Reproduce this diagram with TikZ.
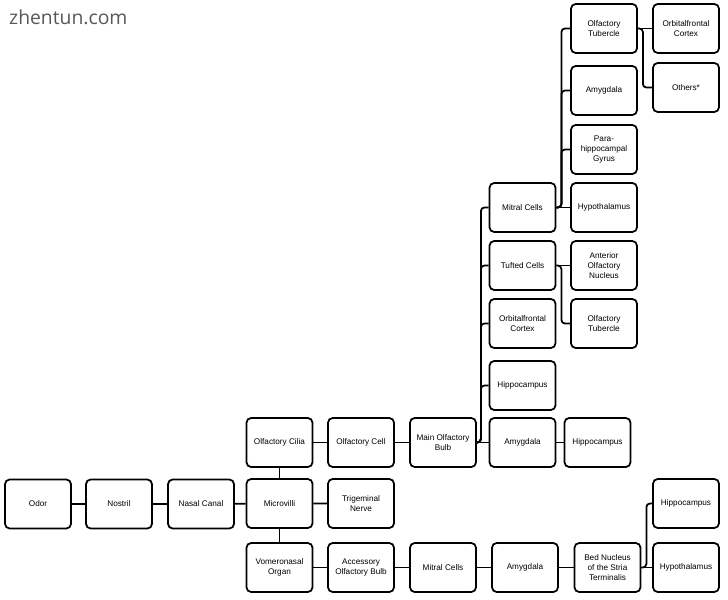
\documentclass[tikz,border=0pt]{standalone}
\usepackage{fontspec}
\setmainfont{Liberation Sans}
\newfontfamily\wmfont{Open Sans}
\usepackage{tikz}
\usetikzlibrary{positioning}
\usepackage{xcolor}
\definecolor{wmgray}{RGB}{88,88,88}

\begin{document}
\begin{tikzpicture}[x=0.03cm, y=-0.03cm,
  box/.style={draw, line width=1.5pt, rounded corners=4pt, minimum width=1.98cm, minimum height=1.47cm,
    align=center, inner sep=1pt, font=\fontsize{7}{8.3}\selectfont},
  link/.style={line width=1.5pt, rounded corners=3pt}]
  \useasboundingbox (0,0) rectangle (728,600);
  \node[anchor=base west, text=wmgray, font=\wmfont\fontsize{16.5}{18}\selectfont, inner sep=0pt] (wm) at (9,25) {zhentun.com};
  % Entry row
  \node[box] (odor) at (38,504) {Odor};
  \node[box] (nostril) at (119,504) {Nostril};
  \node[box] (nasal) at (201,504) {Nasal Canal};
  \node[box] (microvilli) at (279.5,503.5) {Microvilli};
  \node[box] (cilia) at (279.5,442.5) {Olfactory Cilia};
  \node[box] (vomero) at (279.5,567.5) {Vomeronasal\\Organ};
  \node[box] (cell) at (361,442.5) {Olfactory Cell};
  \node[box] (trigem) at (361,503.5) {Trigeminal\\Nerve};
  \node[box] (accessory) at (361,567.5) {Accessory\\Olfactory Bulb};
  % Main olfactory bulb and targets
  \node[box] (mob) at (443,442.5) {Main Olfactory\\Bulb};
  \node[box] (mitral) at (522.5,207.5) {Mitral Cells};
  \node[box] (tufted) at (522.5,265.5) {Tufted Cells};
  \node[box] (orbitG) at (522.5,323.5) {Orbitalfrontal\\Cortex};
  \node[box] (hippoG) at (522.5,385.5) {Hippocampus};
  \node[box] (amyg) at (522.5,442.5) {Amygdala};
  \node[box] (hippoM) at (597.5,442.5) {Hippocampus};
  \node[box] (tuber) at (604,28.5) {Olfactory\\Tubercle};
  \node[box] (amygH) at (604,90.5) {Amygdala};
  \node[box] (para) at (604,149.5) {Para-\\hippocampal\\Gyrus};
  \node[box] (hypo) at (604,207.5) {Hypothalamus};
  \node[box] (aon) at (604,265.5) {Anterior\\Olfactory\\Nucleus};
  \node[box] (tuberB) at (604,323.5) {Olfactory\\Tubercle};
  \node[box] (orbitI) at (686,28.5) {Orbitalfrontal\\Cortex};
  \node[box] (others) at (686,87.5) {Others*};
  % Accessory pathway
  \node[box] (mitralB) at (443,567.5) {Mitral Cells};
  \node[box] (amygB) at (525,567.5) {Amygdala};
  \node[box] (bnst) at (607.5,567.5) {Bed Nucleus\\of the Stria\\Terminalis};
  \node[box] (hippoR) at (686,503.5) {Hippocampus};
  \node[box] (hypoR) at (686,567.5) {Hypothalamus};
  % Straight links
  \draw[link] (odor) -- (nostril) -- (nasal) -- (microvilli) -- (trigem);
  \draw[link] (cilia) -- (microvilli) -- (vomero);
  \draw[link] (cilia) -- (cell) -- (mob) -- (amyg) -- (hippoM);
  \draw[link] (vomero) -- (accessory) -- (mitralB) -- (amygB) -- (bnst);
  \draw[link] (mitral) -- (hypo);
  \draw[link] (tufted) -- (aon);
  \draw[link] (tuber) -- (orbitI);
  \draw[link] (bnst) -- (hypoR);
  % Branching links
  \foreach \c in {mitral,tufted,orbitG,hippoG}
    \draw[link] (mob.east) -- ++(4,0) |- (\c.west);
  \foreach \c in {tuber,amygH,para}
    \draw[link] (mitral.east) -- ++(5,0) |- (\c.west);
  \draw[link] (tufted.east) -- ++(5,0) |- (tuberB.west);
  \draw[link] (tuber.east) -- ++(5,0) |- (others.west);
  \draw[link] (bnst.east) -- ++(5,0) |- (hippoR.west);
\end{tikzpicture}
\end{document}
